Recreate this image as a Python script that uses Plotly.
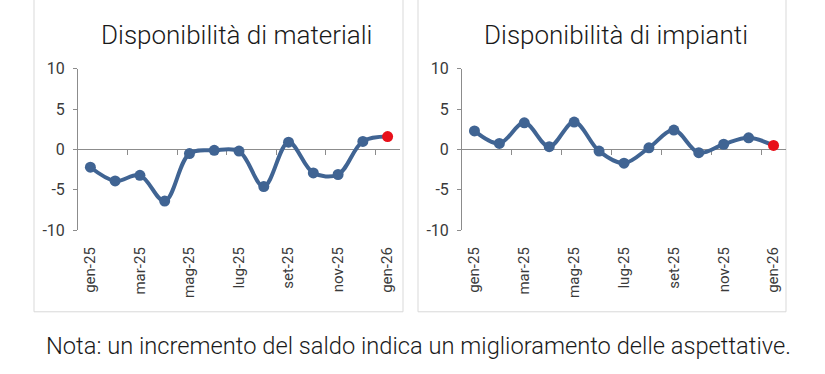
import plotly.graph_objects as go

months = ["gen-25", "feb-25", "mar-25", "apr-25", "mag-25", "giu-25", "lug-25",
          "ago-25", "set-25", "ott-25", "nov-25", "dic-25", "gen-26"]
materiali = [-2.2, -3.9, -3.2, -6.4, -0.5, -0.1, -0.2, -4.6, 0.9, -2.9, -3.1, 1.0, 1.6]
impianti = [2.3, 0.75, 3.3, 0.35, 3.4, -0.2, -1.7, 0.2, 2.4, -0.4, 0.65, 1.45, 0.5]
titles = ["Disponibilità di materiali", "Disponibilità di impianti"]
note = "Nota: un incremento del saldo indica un miglioramento delle aspettative."
y_tickvals = [-10, -5, 0, 5, 10]
y_ticktext = ["-10", "-5", "0", "5", "10"]
label_months = months[::2]
boundary_ticks = [i + 0.5 for i in range(1, len(months) - 1, 2)]

W, H = 825, 374
BLUE = "#406493"
RED = "#E8101A"
GREY = "#8c8c8c"
TXT = "#3a3a3a"

def px(x):
    return x / W

def py(y):
    return 1 - y / H

xdomains = [[px(78), px(400)], [px(462), px(786)]]
ydomain = [py(233), py(63)]
zero_pos = (ydomain[0] + ydomain[1]) / 2

fig = go.Figure()
series = [materiali, impianti]
for k, vals in enumerate(series):
    xa = "x" if k == 0 else "x2"
    ya = "y" if k == 0 else "y2"
    colors = [BLUE] * (len(vals) - 1) + [RED]
    fig.add_trace(go.Scatter(
        x=months, y=vals, xaxis=xa, yaxis=ya, mode="lines+markers",
        line=dict(color=BLUE, width=4, shape="spline", smoothing=1.0),
        marker=dict(color=colors, size=11),
        showlegend=False, hoverinfo="skip"))

ax_common = dict(type="category", range=[-0.5, len(months) - 0.5],
                 tickvals=label_months, ticktext=label_months, tickangle=-90,
                 showgrid=False, showline=False, zeroline=False, ticks="",
                 tickfont=dict(family="Roboto", size=15, color=TXT),
                 ticklabelstandoff=13)
ay_common = dict(range=[-10, 10], tickvals=y_tickvals, ticktext=y_ticktext,
                 showgrid=False, zeroline=False, showline=True, linecolor=GREY,
                 linewidth=1, ticks="outside", ticklen=4, tickcolor=GREY,
                 tickfont=dict(family="Roboto", size=16, color=TXT),
                 ticklabelstandoff=5, domain=ydomain)
tick_axis = dict(range=[-0.5, len(months) - 0.5], tickvals=boundary_ticks,
                 showticklabels=False, ticks="outside", ticklen=5, tickcolor=GREY,
                 showline=True, linecolor=GREY, linewidth=1, showgrid=False,
                 zeroline=False, anchor="free", position=zero_pos, layer="below traces")

fig.update_layout(
    width=W, height=H, margin=dict(l=0, r=0, t=0, b=0),
    paper_bgcolor="white", plot_bgcolor="rgba(0,0,0,0)",
    xaxis=dict(domain=xdomains[0], anchor="y", **ax_common),
    xaxis2=dict(domain=xdomains[1], anchor="y2", **ax_common),
    yaxis=dict(anchor="x", **ay_common),
    yaxis2=dict(anchor="x2", **ay_common),
    xaxis3=dict(domain=xdomains[0], overlaying="x", **tick_axis),
    xaxis4=dict(domain=xdomains[1], overlaying="x2", **tick_axis),
)

# invisible helper traces so the zero-line tick axes are rendered
for xa, ya in (("x3", "y"), ("x4", "y2")):
    fig.add_trace(go.Scatter(x=[None], y=[None], xaxis=xa, yaxis=ya,
                             showlegend=False, hoverinfo="skip"))

# panel frames
for x0, x1 in ((34, 403), (418, 786)):
    fig.add_shape(type="rect", xref="paper", yref="paper",
                  x0=px(x0), x1=px(x1), y0=py(319), y1=1.05,
                  line=dict(color="#d9d9d9", width=1), layer="below")

for t, cx in zip(titles, (236.5, 616)):
    fig.add_annotation(text=t, xref="paper", yref="paper", x=px(cx), y=py(27),
                       xanchor="center", yanchor="middle", showarrow=False,
                       font=dict(family="Roboto", size=26, color="#1a1a1a", weight=300))

fig.add_annotation(text=note, xref="paper", yref="paper", x=px(418), y=py(355),
                   xanchor="center", yanchor="middle", showarrow=False,
                   font=dict(family="Roboto", size=23.7, color="#1a1a1a", weight=300))

fig.write_html("out.html", config={"displayModeBar": False},
               post_script="document.body.style.margin='0';document.body.style.overflow='hidden';")
